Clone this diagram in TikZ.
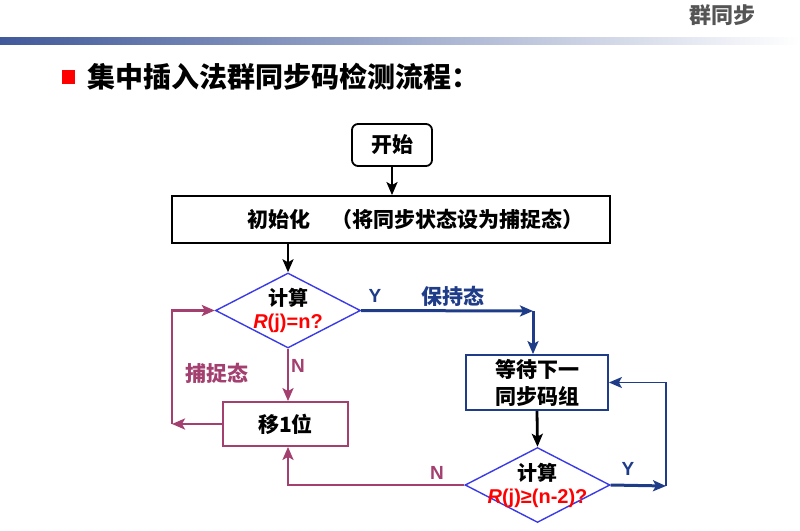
\documentclass[tikz,border=0pt]{standalone}
\usepackage{fontspec}
\setmainfont{Liberation Sans}
\newfontfamily\cjk{Noto Sans CJK SC}
\usepackage{xcolor}
\usetikzlibrary{shapes.geometric, arrows.meta, positioning, calc}

\definecolor{syncblue}{HTML}{1F3C88}
\definecolor{diablue}{HTML}{3A3AE6}
\definecolor{catchred}{HTML}{A3406F}
\definecolor{headgray}{HTML}{555555}

\begin{document}
\begin{tikzpicture}[x=1pt, y=-1pt,
  >={Stealth[length=13pt, width=11pt, inset=3pt]},
  box/.style={draw, line width=1.8pt, inner sep=0pt, font=\cjk\bfseries\fontsize{21}{25}\selectfont},
  dia/.style={diamond, draw=diablue, line width=1.4pt, inner sep=0pt, minimum width=145pt, minimum height=75pt},
  diatext/.style={align=center, font=\bfseries\fontsize{20}{23}\selectfont},
  lbl/.style={font=\cjk\bfseries\fontsize{21}{24}\selectfont},
  yn/.style={font=\bfseries\fontsize{19}{22}\selectfont},
  flow/.style={line width=2.8pt},
  hold/.style={line width=3pt, syncblue},
  catch/.style={line width=2.6pt, catchred}]
\useasboundingbox (0,0) rectangle (800,530);

% Page head
\node[font=\cjk\bfseries\fontsize{22}{24}\selectfont, text=headgray] (head) at (722,15) {群同步};
\shade[left color=syncblue!85, right color=white] (0,37) rectangle (800,44);
\fill[red] (62,70) rectangle (75,84);
\node[anchor=west, font=\cjk\bfseries\fontsize{28}{32}\selectfont] (title) at (84,77) {集中插入法群同步码检测流程：};

% Boxes
\node[box, rounded corners=6pt, minimum width=80pt, minimum height=42pt] (start) at (392,145) {开始};
\node[box, minimum width=438pt, minimum height=47pt,
  label={[font=\cjk\bfseries\fontsize{21}{25}\selectfont, xshift=24pt]center:初始化　（将同步状态设为捕捉态）}] (init) at (391,219.5) {};
\node[dia, label={[diatext]center:{\cjk 计算}\\\textcolor{red}{\textit{R}(j)=n?}}] (calc1) at (288,310.5) {};
\node[box, draw=catchred, minimum width=125pt, minimum height=44pt] (shift) at (285.5,424) {移1位};
\node[box, draw=syncblue, minimum width=142pt, minimum height=55pt, align=center,
  font=\cjk\bfseries\fontsize{21}{27}\selectfont] (wait) at (537,382.5) {等待下一\\同步码组};
\node[dia, label={[diatext]center:{\cjk 计算}\\\textcolor{red}{\textit{R}(j)≥(n-2)?}}] (calc2) at (537.5,485) {};

% Corner points
\coordinate (holdc) at (533,311);
\coordinate (yesc) at (666,486);
\coordinate (loopc) at (172,424);

% Main flow
\draw[flow, ->] (start) -- (start |- init.north);
\draw[flow, ->] (calc1.north |- init.south) -- (calc1.north);
\draw[flow, ->] (wait.south) -- (calc2.north);

% Hold state
\draw[hold, ->] (calc1.east) -- (holdc);
\draw[hold, ->] (holdc) -- (holdc |- wait.north);
\draw[hold, ->] (calc2.east) -- (yesc);
\draw[line width=1.8pt, syncblue, ->] (yesc) |- (wait.east);
\node[yn, text=syncblue] (y1) at (375,296) {Y};
\node[lbl, text=syncblue] (holdlbl) at (453,296) {保持态};
\node[yn, text=syncblue] (y2) at (628,469) {Y};

% Catch state
\draw[catch, ->] (calc1.south) -- (calc1.south |- shift.north);
\draw[catch, ->] (calc2.west) -| (calc1.south |- shift.south);
\draw[catch, ->] (shift.west) -- (loopc);
\draw[catch, ->] (loopc) |- (calc1.west);
\node[yn, text=catchred] (n1) at (298,366) {N};
\node[yn, text=catchred] (n2) at (437,473) {N};
\node[lbl, text=catchred] (catchlbl) at (217,373) {捕捉态};
\end{tikzpicture}
\end{document}
